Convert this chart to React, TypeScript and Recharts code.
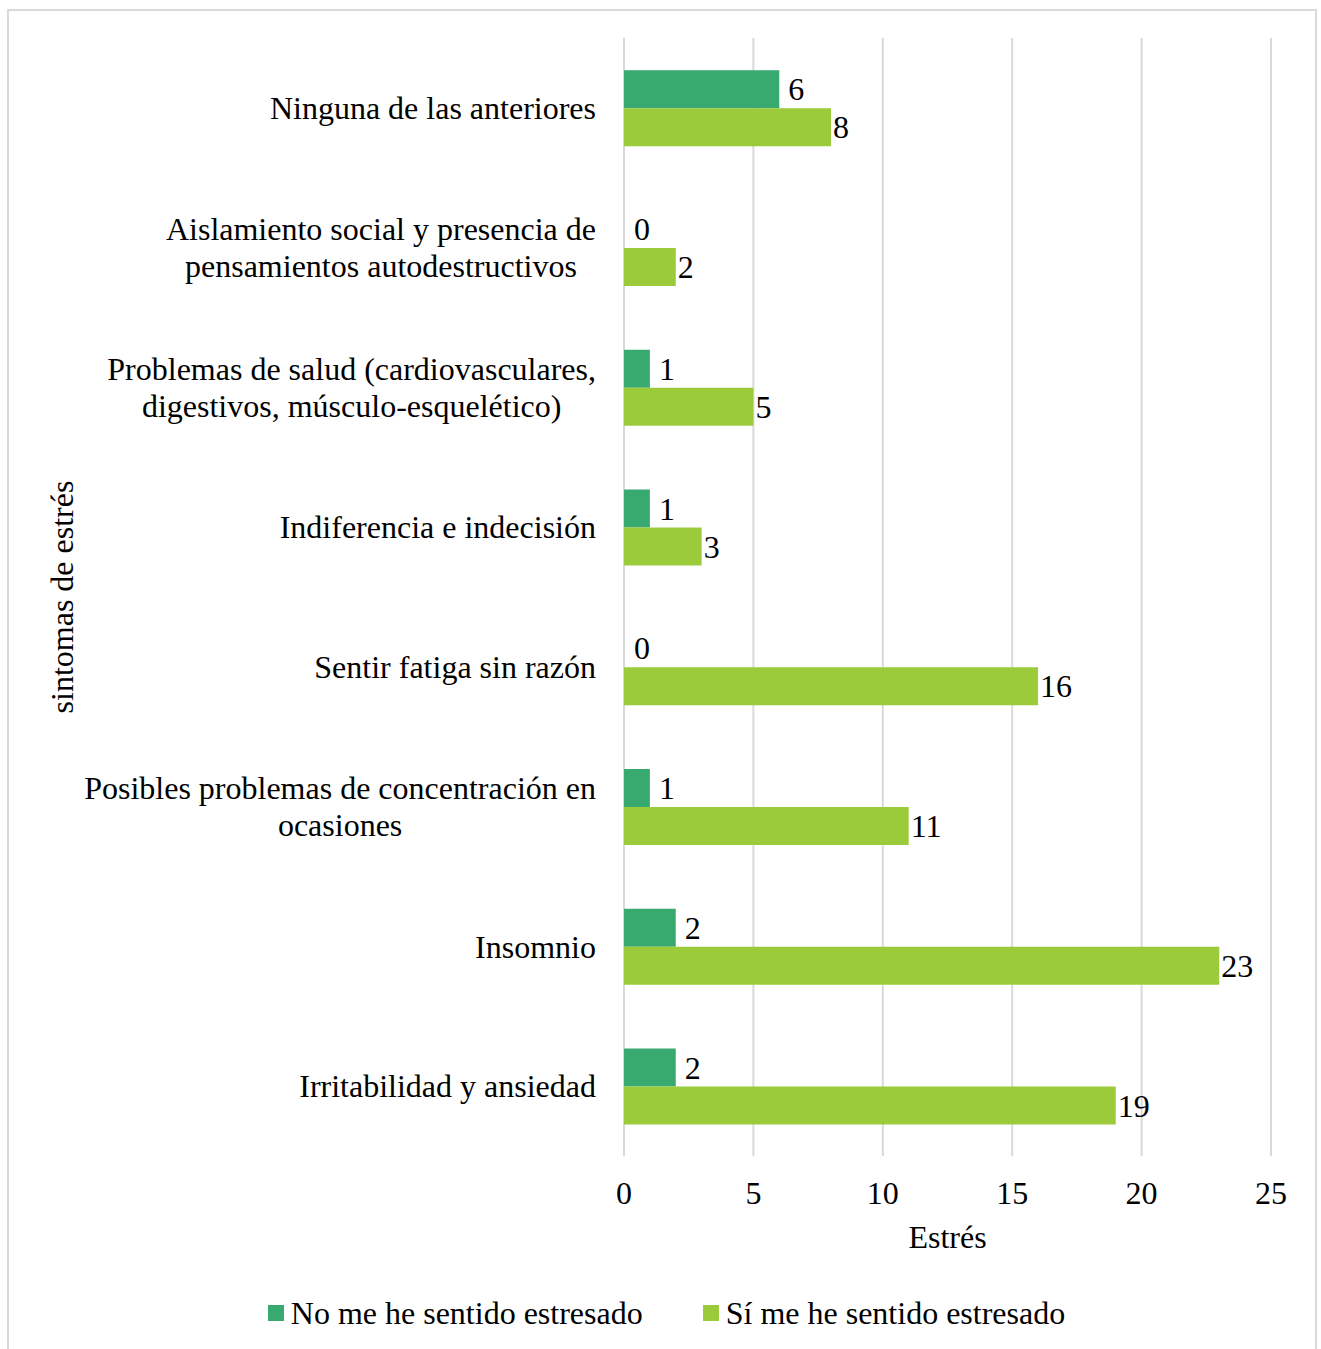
import React from "react";
import {
  BarChart,
  Bar,
  XAxis,
  YAxis,
  CartesianGrid,
  Legend,
  LabelList,
  Label,
  Rectangle,
} from "recharts";

const categories = [
  "Ninguna de las anteriores",
  "Aislamiento social y presencia de pensamientos autodestructivos",
  "Problemas de salud (cardiovasculares, digestivos, músculo-esquelético)",
  "Indiferencia e indecisión",
  "Sentir fatiga sin razón",
  "Posibles problemas de concentración en ocasiones",
  "Insomnio",
  "Irritabilidad y ansiedad",
];

// how each category label wraps in the original
const categoryLines = [
  ["Ninguna de las anteriores"],
  ["Aislamiento social y presencia de", "pensamientos autodestructivos"],
  ["Problemas de salud (cardiovasculares,", "digestivos, músculo-esquelético)"],
  ["Indiferencia e indecisión"],
  ["Sentir fatiga sin razón"],
  ["Posibles problemas de concentración en", "ocasiones"],
  ["Insomnio"],
  ["Irritabilidad y ansiedad"],
];

const noEstresado = [6, 0, 1, 1, 0, 1, 2, 2];
const siEstresado = [8, 2, 5, 3, 16, 11, 23, 19];

const xTicks = [0, 5, 10, 15, 20, 25];

const seriesNames = ["No me he sentido estresado", "Sí me he sentido estresado"];

const FONT = '"Liberation Serif", "Times New Roman", serif';
const FONT_SIZE = 32;
const DARK = "#38A96F";
const LIGHT = "#9BCB3A";

const data = categories.map((c, i) => ({
  category: c,
  no: noEstresado[i],
  si: siEstresado[i],
}));

let ctx: CanvasRenderingContext2D | null = null;
function measure(text: string) {
  if (!ctx) {
    const canvas = document.createElement("canvas");
    ctx = canvas.getContext("2d");
  }
  if (!ctx) return text.length * FONT_SIZE * 0.45;
  ctx.font = `${FONT_SIZE}px ${FONT}`;
  return ctx.measureText(text).width;
}

function CategoryTick(props: any) {
  const { x, y, payload } = props;
  const idx = categories.indexOf(payload.value);
  const lines = idx >= 0 ? categoryLines[idx] : [payload.value];
  const maxW = Math.max(...lines.map(measure));
  const cx = x - maxW / 2;
  const lh = 37;
  const startY = y - ((lines.length - 1) * lh) / 2;
  return (
    <g>
      {lines.map((l: string, i: number) => (
        <text
          key={i}
          x={cx}
          y={startY + i * lh}
          dy="0.35em"
          textAnchor="middle"
          fontFamily={FONT}
          fontSize={FONT_SIZE}
          fill="#000"
        >
          {l}
        </text>
      ))}
    </g>
  );
}

// zero values still get a label, but no visible bar
const makeShape = (key: "no" | "si") => (props: any) =>
  props.payload[key] === 0 ? <g /> : <Rectangle {...props} />;

const makeValueLabel = (gap: number) => (props: any) => {
  const { x, y, width, height, value } = props;
  return (
    <text
      x={x + width + gap}
      y={y + height / 2}
      dy="0.35em"
      fontFamily={FONT}
      fontSize={FONT_SIZE}
      fill="#000"
    >
      {value}
    </text>
  );
};

function LegendContent() {
  const colors = [DARK, LIGHT];
  return (
    <div
      style={{
        display: "flex",
        justifyContent: "center",
        gap: 60,
        paddingLeft: 12,
        fontFamily: FONT,
        fontSize: FONT_SIZE,
        lineHeight: "40px",
        color: "#000",
      }}
    >
      {seriesNames.map((n, i) => (
        <div key={n} style={{ display: "flex", alignItems: "center", gap: 7 }}>
          <span
            style={{
              display: "inline-block",
              width: 16,
              height: 16,
              background: colors[i],
            }}
          />
          <span>{n}</span>
        </div>
      ))}
    </div>
  );
}

export default function App() {
  return (
    <div>
      <div
        style={{
          position: "absolute",
          left: 7,
          top: 9,
          width: 1310,
          height: 1360,
          border: "2px solid #D9D9D9",
          boxSizing: "border-box",
        }}
      />
      <div style={{ position: "absolute", left: 0, top: 0 }}>
        <BarChart
          width={1321}
          height={1349}
          data={data}
          layout="vertical"
          margin={{ top: 38, right: 50, left: 0, bottom: 93 }}
          barCategoryGap="23%"
          barGap={0}
        >
          <CartesianGrid horizontal={false} stroke="#D9D9D9" strokeWidth={2} />
          <XAxis
            type="number"
            domain={[0, 25]}
            ticks={xTicks}
            axisLine={false}
            tickLine={false}
            tickSize={0}
            tickMargin={25}
            height={100}
            tick={{ fontFamily: FONT, fontSize: FONT_SIZE, fill: "#000" }}
          >
            <Label
              value="Estrés"
              position="insideBottom"
              offset={8}
              style={{ fontFamily: FONT, fontSize: FONT_SIZE, fill: "#000" }}
            />
          </XAxis>
          <YAxis
            type="category"
            dataKey="category"
            width={624}
            axisLine={false}
            tickLine={false}
            tickSize={0}
            tickMargin={28}
            interval={0}
            tick={<CategoryTick />}
          >
            <Label
              content={(p: any) => {
                const vb = p.viewBox;
                const cy = vb.y + vb.height / 2;
                return (
                  <text
                    x={62}
                    y={cy}
                    dy="0.35em"
                    transform={`rotate(-90, 62, ${cy})`}
                    textAnchor="middle"
                    fontFamily={FONT}
                    fontSize={FONT_SIZE}
                    fill="#000"
                  >
                    sintomas de estrés
                  </text>
                );
              }}
            />
          </YAxis>
          <Legend
            layout="horizontal"
            verticalAlign="middle"
            align="center"
            content={<LegendContent />}
            wrapperStyle={{ top: 1293, left: 0, width: 1321 }}
          />
          <Bar
            dataKey="no"
            name={seriesNames[0]}
            fill={DARK}
            minPointSize={1}
            shape={makeShape("no")}
            isAnimationActive={false}
          >
            <LabelList dataKey="no" content={makeValueLabel(9)} />
          </Bar>
          <Bar
            dataKey="si"
            name={seriesNames[1]}
            fill={LIGHT}
            minPointSize={1}
            shape={makeShape("si")}
            isAnimationActive={false}
          >
            <LabelList dataKey="si" content={makeValueLabel(2)} />
          </Bar>
        </BarChart>
      </div>
    </div>
  );
}
